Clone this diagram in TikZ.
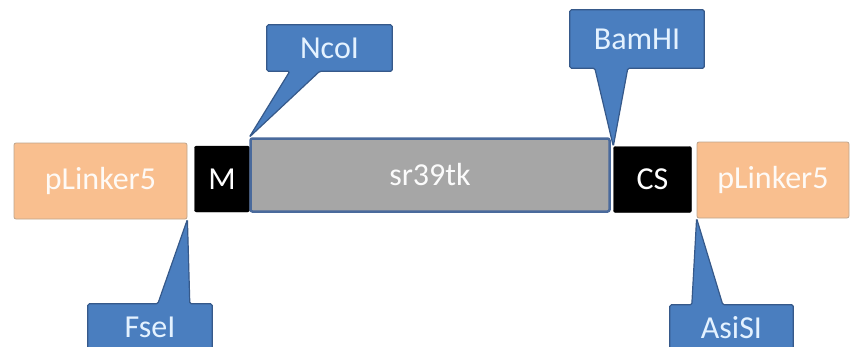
\documentclass[tikz,border=0pt]{standalone}
\usepackage{fontspec}
\setmainfont{Carlito}
\usetikzlibrary{positioning, calc, backgrounds}
\definecolor{corange}{HTML}{F9BF8F}
\definecolor{corline}{HTML}{BFA58C}
\definecolor{cgray}{HTML}{A6A6A6}
\definecolor{cgline}{HTML}{4A6A9C}
\definecolor{cblue}{HTML}{4A7EBF}
\definecolor{cbline}{HTML}{36598A}
\definecolor{ctext}{HTML}{E4F2FF}
\begin{document}
\begin{tikzpicture}[
  x=1pt, y=-1pt,
  font=\fontsize{32}{38}\selectfont,
  part/.style={rounded corners=2pt, align=center, inner sep=0pt},
  linker/.style={part, fill=corange, draw=corline, line width=0.8pt,
                 text=white!92!corange},
  tag/.style={part, fill=black, draw=black, text=white},
  gene/.style={part, fill=cgray, draw=cgline, line width=2.5pt, text=white!95!cgray},
  site/.style={inner sep=0pt, text=ctext},
  bubble/.style={fill=cblue, draw=cbline, line width=1.2pt, rounded corners=1.5pt},
  ]
\clip (0,0) rectangle (857,346);
% ---- row: construct
\node[linker, minimum width=173pt, minimum height=76pt] (link1) at (100.5,181) {pLinker5};
\node[tag, minimum width=55pt, minimum height=66pt] (m) at (222,179) {M};
\node[gene, minimum width=359pt, minimum height=73pt] (sr) at (430,175) {sr39tk};
\node[tag, minimum width=78pt, minimum height=66pt] (cs) at (652.5,179.5) {CS};
\node[linker, minimum width=152pt, minimum height=76pt] (link2) at (773,180) {pLinker5};
% ---- callouts: text
\node[site, minimum width=125pt, minimum height=46pt] (ncoi) at (329.5,48) {NcoI};
\node[site, minimum width=134pt, minimum height=58pt] (bamhi) at (637,39) {BamHI};
\node[site, minimum width=124pt, minimum height=46pt] (fsei) at (150,327) {FseI};
\node[site, minimum width=123pt, minimum height=46pt] (asisi) at (731.5,328) {AsiSI};
% ---- callouts: bubbles
\begin{scope}[on background layer]
\draw[bubble] (ncoi.north west) -- (ncoi.north east) -- (ncoi.south east)
  -- ($(ncoi.south west)+(53,0)$) -- (sr.north west)
  -- ($(ncoi.south west)+(23,0)$) -- (ncoi.south west) -- cycle;
\draw[bubble] (bamhi.north west) -- (bamhi.north east) -- (bamhi.south east)
  -- ($(bamhi.south west)+(58,0)$) -- (cs.north west)
  -- ($(bamhi.south west)+(25,0)$) -- (bamhi.south west) -- cycle;
\draw[bubble] (fsei.south west) -- (fsei.north west)
  -- ($(fsei.north west)+(70,0)$) -- (link1.south east)
  -- ($(fsei.north west)+(102,0)$) -- (fsei.north east) -- (fsei.south east) -- cycle;
\draw[bubble] (asisi.south west) -- (asisi.north west)
  -- ($(asisi.north west)+(22,0)$) -- (link2.south west)
  -- ($(asisi.north west)+(53,0)$) -- (asisi.north east) -- (asisi.south east) -- cycle;
\end{scope}
\end{tikzpicture}
\end{document}
